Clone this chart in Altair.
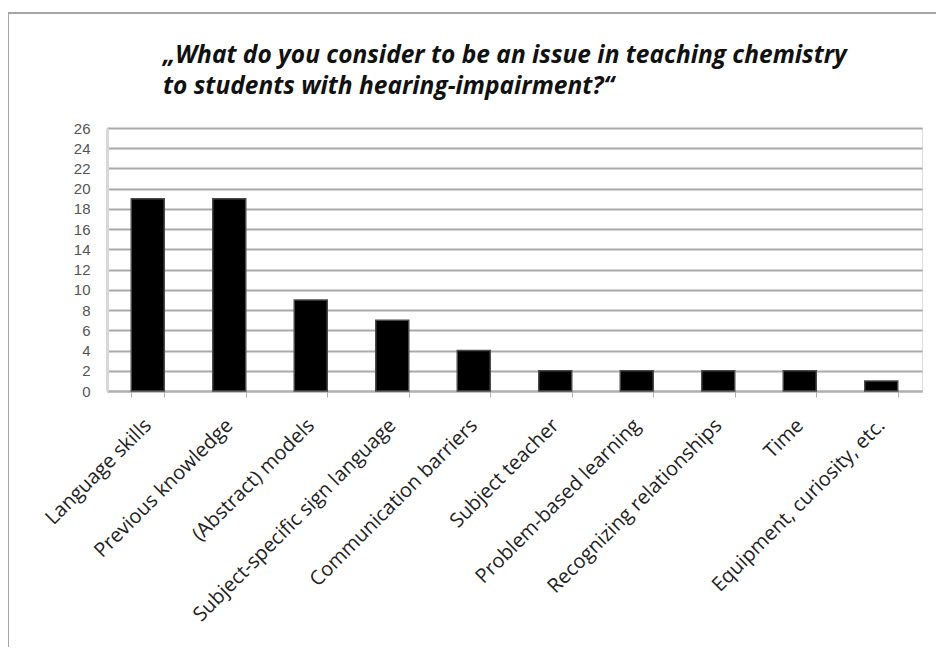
import altair as alt
import pandas as pd

categories = ["Language skills", "Previous knowledge", "(Abstract) models",
              "Subject-specific sign language", "Communication barriers",
              "Subject teacher", "Problem-based learning",
              "Recognizing relationships", "Time", "Equipment, curiosity, etc."]
counts = [19, 19, 9, 7, 4, 2, 2, 2, 2, 1]
y_ticks = list(range(0, 27, 2))
title_lines = ["„What do you consider to be an issue in teaching chemistry",
               "to students with hearing-impairment?“"]

df = pd.DataFrame({"category": categories, "count": counts})

W, H = 815, 263

bars = alt.Chart(df).mark_bar(color="black", stroke="#4a4a4a", strokeWidth=1.5).encode(
    x=alt.X("category:N", sort=categories,
            scale=alt.Scale(paddingInner=0.595, paddingOuter=0.2975),
            axis=alt.Axis(title=None, labelAngle=-45, labelAlign="right", labelBaseline="middle",
                          labelPadding=25, labelFont="Open Sans", labelFontSize=20,
                          labelColor="#222222", tickBand="extent", ticks=True, tickSize=6,
                          tickColor="#b0b0b0", domainColor="#b0b0b0", domainWidth=2,
                          grid=False, labelOverlap=False, labelLimit=0)),
    y=alt.Y("count:Q", scale=alt.Scale(domain=[0, 26], nice=False),
            axis=alt.Axis(title=None, values=y_ticks, ticks=False, labelPadding=17,
                          labelFont="Liberation Sans", labelFontSize=15, labelColor="#555555",
                          gridColor="#aaaaaa", gridWidth=1.8, domainColor="#d8d8d8",
                          domainWidth=3)),
)

one = pd.DataFrame({"a": [0]})
frame_left = alt.Chart(one).mark_rule(stroke="#a6a6a6", strokeWidth=2).encode(
    x=alt.value(-99), y=alt.value(-115), y2=alt.value(H + 300))
frame_top = alt.Chart(one).mark_rule(stroke="#a6a6a6", strokeWidth=2).encode(
    x=alt.value(-100), x2=alt.value(W + 40), y=alt.value(-115))

title = alt.Chart(one).mark_text(
    text=title_lines, align="left", baseline="top", font="Open Sans", fontSize=24.5,
    fontStyle="italic", fontWeight="bold", color="#111111", lineHeight=31).encode(
    x=alt.value(56), y=alt.value(-84))

chart = alt.layer(frame_left, frame_top, bars, title).properties(
    width=W, height=H,
    padding={"left": 99, "top": 120, "right": 14, "bottom": 256},
    autosize=alt.AutoSizeParams(type="none"),
).configure_view(stroke=None).configure(background="white")

chart.save("out.html", embed_options={"renderer": "svg", "actions": False})
